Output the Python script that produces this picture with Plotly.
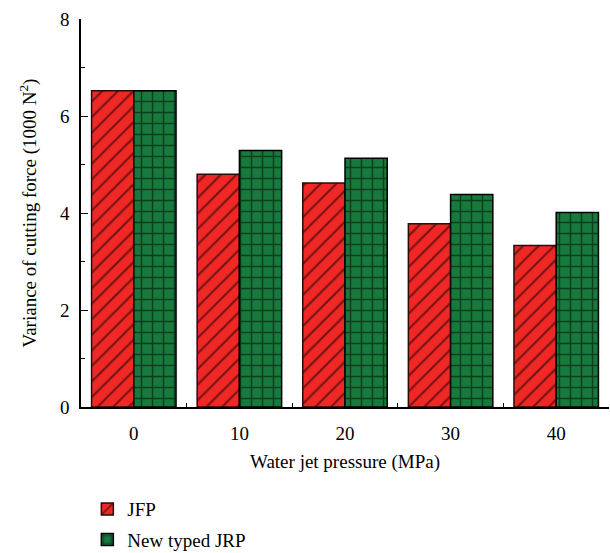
import plotly.graph_objects as go

categories = ["0", "10", "20", "30", "40"]
jfp = [6.52, 4.80, 4.62, 3.78, 3.33]
jrp = [6.52, 5.29, 5.13, 4.38, 4.01]
y_ticks = [0, 2, 4, 6, 8]

FONT = "Liberation Serif"

fig = go.Figure()
fig.add_trace(go.Bar(
    x=categories, y=jfp, name="JFP", legendgroup="a",
    marker=dict(color="#EF2826", line=dict(color="#2a0a0a", width=1.5),
                pattern=dict(shape="/", fgcolor="black", bgcolor="#EF2826",
                             size=11, solidity=0.2, fillmode="overlay")),
))
fig.add_trace(go.Bar(
    x=categories, y=jrp, name="New typed JRP", legendgroup="b",
    marker=dict(color="#177A3C", line=dict(color="black", width=1.5),
                pattern=dict(shape="+", fgcolor="black", bgcolor="#177A3C",
                             size=11, solidity=0.25, fillmode="overlay")),
))

fig.update_layout(
    width=610, height=553,
    margin=dict(l=81, r=1, t=19, b=145.5, autoexpand=False),
    paper_bgcolor="white", plot_bgcolor="white",
    barmode="group", bargap=0.2, bargroupgap=0,
    font=dict(family=FONT, size=19, color="black"),
    showlegend=True,
    legend=dict(x=0.012, xanchor="left", y=-0.214, yanchor="top",
                orientation="v", tracegroupgap=3,
                font=dict(family=FONT, size=19)),
    xaxis=dict(
        type="category", showline=True, linecolor="black", linewidth=1.5,
        ticks="inside", tickson="boundaries", ticklen=4, tickcolor="black",
        ticklabelstandoff=8, showgrid=False, zeroline=False,
        title=dict(text="Water jet pressure (MPa)", standoff=12,
                   font=dict(family=FONT, size=19)),
    ),
    yaxis=dict(
        range=[0, 8], tickvals=y_ticks, showline=True, linecolor="black",
        linewidth=1.5, ticks="inside", ticklen=7, tickcolor="black",
        ticklabelstandoff=6, showgrid=False, zeroline=False,
        minor=dict(dtick=1, ticks="inside", ticklen=4, tickcolor="black", showgrid=False),
        title=dict(text="Variance of cutting force (1000 N<sup>2</sup>)", standoff=18,
                   font=dict(family=FONT, size=19)),
    ),
)

fig.write_html("out.html")
